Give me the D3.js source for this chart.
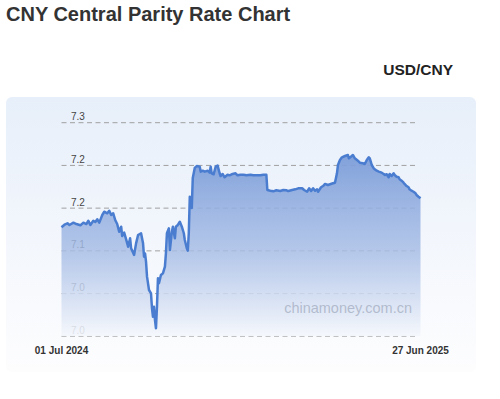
<!DOCTYPE html>
<html>
<head>
<meta charset="utf-8">
<script src="https://cdn.jsdelivr.net/npm/d3@7"></script>
<style>
  body { margin: 0; background: #fff; }
</style>
</head>
<body>
<div id="chart"></div>
<script>
// days counted from 01 Jul 2024
const startDate = "2024-07-01";
const endDate = "2025-06-27";
const days = [
  0, 3, 6, 8, 12, 15, 19, 22, 25, 27, 29, 32, 34, 36, 38, 41, 43, 46, 48, 50,
  52, 54, 56, 58, 60, 61, 63, 65, 67, 69, 70, 73, 75, 77, 80, 82, 83, 84, 85, 86,
  88, 90, 91, 92, 93, 94, 95, 96, 97, 98, 100, 102, 104, 105, 106, 108, 109, 111, 112, 114,
  115, 117, 119, 121, 123, 124, 126, 127, 128, 129, 131, 132, 134, 136, 139, 140, 142, 144, 147, 149,
  150, 151, 153, 155, 157, 159, 160, 162, 164, 167, 169, 172, 175, 177, 180, 183, 186, 190, 193, 200,
  203, 206, 207, 210, 213, 216, 220, 223, 226, 228, 232, 235, 238, 242, 244, 247, 249, 251, 253, 255,
  257, 258, 261, 263, 265, 268, 270, 273, 275, 277, 278, 280, 282, 285, 288, 289, 291, 293, 295, 298,
  300, 303, 305, 307, 309, 310, 312, 314, 315, 317, 319, 322, 324, 325, 327, 329, 330, 332, 334, 335,
  337, 339, 340, 342, 344, 345, 347, 349, 350, 352, 354, 356, 357, 359, 361
];
const rates = [
  7.1276, 7.1306, 7.1323, 7.1303, 7.1330, 7.1314, 7.1299, 7.1330, 7.1314, 7.1353, 7.1303, 7.1353, 7.1338, 7.1369, 7.1330, 7.1420, 7.1458, 7.1440, 7.1470, 7.1420,
  7.1440, 7.1361, 7.1314, 7.1224, 7.1283, 7.1174, 7.1213, 7.1135, 7.1049, 7.1147, 7.1030, 7.0952, 7.1088, 7.1186, 7.1206, 7.1088, 7.0932, 7.0971, 7.0873, 7.0698,
  7.0542, 7.0503, 7.0328, 7.0229, 7.0346, 7.0191, 7.0094, 7.0346, 7.0679, 7.0620, 7.0717, 7.0737, 7.0815, 7.0971, 7.1206, 7.1264, 7.1010, 7.1224, 7.1283, 7.1147,
  7.1283, 7.1303, 7.1341, 7.1283, 7.1206, 7.1127, 7.1030, 7.1002, 7.1206, 7.1634, 7.1502, 7.1853, 7.1970, 7.1993, 7.1985, 7.1927, 7.1938, 7.1927, 7.1938, 7.1915,
  7.1985, 7.1908, 7.1896, 7.1985, 7.1997, 7.1908, 7.1876, 7.1900, 7.1861, 7.1891, 7.1884, 7.1900, 7.1908, 7.1884, 7.1891, 7.1891, 7.1884, 7.1891, 7.1884, 7.1884,
  7.1891, 7.1891, 7.1712, 7.1704, 7.1697, 7.1709, 7.1700, 7.1712, 7.1709, 7.1700, 7.1712, 7.1720, 7.1732, 7.1732, 7.1712, 7.1692, 7.1732, 7.1700, 7.1732, 7.1704,
  7.1720, 7.1692, 7.1744, 7.1759, 7.1783, 7.1771, 7.1779, 7.1791, 7.1798, 7.1908, 7.2005, 7.2063, 7.2095, 7.2110, 7.2122, 7.2083, 7.2102, 7.2122, 7.2083, 7.2055,
  7.2032, 7.2025, 7.2017, 7.2063, 7.2095, 7.2083, 7.2005, 7.1966, 7.1955, 7.1938, 7.1927, 7.1915, 7.1900, 7.1888, 7.1896, 7.1861, 7.1900, 7.1876, 7.1908, 7.1888,
  7.1868, 7.1861, 7.1838, 7.1821, 7.1798, 7.1783, 7.1759, 7.1744, 7.1720, 7.1704, 7.1692, 7.1674, 7.1654, 7.1634, 7.1615
];
const yTicks = [7.00, 7.05, 7.10, 7.15, 7.20, 7.25];
const yTickLabels = ["7.0", "7.0", "7.1", "7.2", "7.2", "7.3"];
const xTickLabels = ["01 Jul 2024", "27 Jun 2025"];

class ParityChart {

    constructor(_config, _data) {
        this.config = {
            parentElement: _config.parentElement,
        }
        this.data = _data;
        this.width = 500;
        this.height = 399;
        this.initVis();
    }

    initVis() {
        let vis = this;

        vis.svg = d3.select(vis.config.parentElement).append("svg")
            .attr("width", vis.width)
            .attr("height", vis.height)
            .style("font-family", "'Liberation Sans', Arial, sans-serif");

        let defs = vis.svg.append("defs");

        let panelGrad = defs.append("linearGradient")
            .attr("id", "panelGrad")
            .attr("x1", 0).attr("x2", 0).attr("y1", 0).attr("y2", 1);
        panelGrad.append("stop").attr("offset", "0%").attr("stop-color", "#e7effa");
        panelGrad.append("stop").attr("offset", "70%").attr("stop-color", "#f7f9fd");
        panelGrad.append("stop").attr("offset", "100%").attr("stop-color", "#fdfdfe");

        let areaGrad = defs.append("linearGradient")
            .attr("id", "areaGrad")
            .attr("gradientUnits", "userSpaceOnUse")
            .attr("x1", 0).attr("x2", 0).attr("y1", 155).attr("y2", 336);
        areaGrad.append("stop").attr("offset", "0%").attr("stop-color", "#7c9dd9").attr("stop-opacity", 0.95);
        areaGrad.append("stop").attr("offset", "55%").attr("stop-color", "#a8bee6").attr("stop-opacity", 0.82);
        areaGrad.append("stop").attr("offset", "100%").attr("stop-color", "#f4f7fc").attr("stop-opacity", 0.88);

        vis.x = d3.scaleTime()
            .domain([d3.isoParse(startDate), d3.isoParse(endDate)])
            .range([61.5, 420.5]);
        vis.y = d3.scaleLinear()
            .domain([7.00, 7.25])
            .range([336.3, 122.7]);

        vis.renderVis();
    }

    renderVis() {
        let vis = this;
        let start = d3.isoParse(startDate);
        let points = vis.data.days.map((d, i) => ({ date: d3.timeDay.offset(start, d), value: vis.data.rates[i] }));

        // title and currency pair
        vis.svg.append("text")
            .attr("x", 6).attr("y", 21)
            .attr("font-size", 20).attr("font-weight", "bold")
            .attr("fill", "#333")
            .text("CNY Central Parity Rate Chart");

        vis.svg.append("text")
            .attr("x", 453).attr("y", 75)
            .attr("text-anchor", "end")
            .attr("font-size", 15.5).attr("font-weight", "bold")
            .attr("fill", "#222")
            .text("USD/CNY");

        // panel
        vis.svg.append("rect")
            .attr("x", 6).attr("y", 97)
            .attr("width", 470).attr("height", 275)
            .attr("rx", 6)
            .attr("fill", "url(#panelGrad)");

        let [gx0, gx1] = vis.x.range();

        // grid
        vis.svg.append("g")
            .selectAll("line")
            .data(yTicks)
            .join("line")
            .attr("x1", gx0).attr("x2", gx1 - 2.5)
            .attr("y1", d => vis.y(d)).attr("y2", d => vis.y(d))
            .attr("stroke", "#a0a0a0")
            .attr("stroke-width", 1)
            .attr("stroke-dasharray", "5,3.5");

        vis.svg.append("g")
            .selectAll("text")
            .data(yTicks)
            .join("text")
            .attr("x", gx0 + 9.5)
            .attr("y", d => vis.y(d) - 2.5)
            .attr("font-size", 10)
            .attr("fill", "#444")
            .text((d, i) => yTickLabels[i]);

        // area + line
        let area = d3.area()
            .x(d => vis.x(d.date))
            .y0(vis.y(7.00))
            .y1(d => vis.y(d.value));
        let line = d3.line()
            .x(d => vis.x(d.date))
            .y(d => vis.y(d.value));

        vis.svg.append("path")
            .datum(points)
            .attr("d", area)
            .attr("fill", "url(#areaGrad)");

        // watermark
        vis.svg.append("text")
            .attr("x", 412).attr("y", 313)
            .attr("text-anchor", "end")
            .attr("font-size", 14.5)
            .attr("fill", "#aab3c6")
            .attr("fill-opacity", 0.85)
            .text("chinamoney.com.cn");

        vis.svg.append("path")
            .datum(points)
            .attr("d", line)
            .attr("fill", "none")
            .attr("stroke", "#4a7dd0")
            .attr("stroke-width", 2.5)
            .attr("stroke-linejoin", "round");

        // x end labels
        vis.svg.append("g")
            .selectAll("text")
            .data(vis.x.domain())
            .join("text")
            .attr("x", d => vis.x(d))
            .attr("y", 354)
            .attr("text-anchor", "middle")
            .attr("font-size", 10)
            .attr("font-weight", "bold")
            .attr("fill", "#333")
            .text((d, i) => xTickLabels[i]);
    }
}

new ParityChart({ parentElement: "#chart" }, { days: days, rates: rates });
</script>
</body>
</html>
